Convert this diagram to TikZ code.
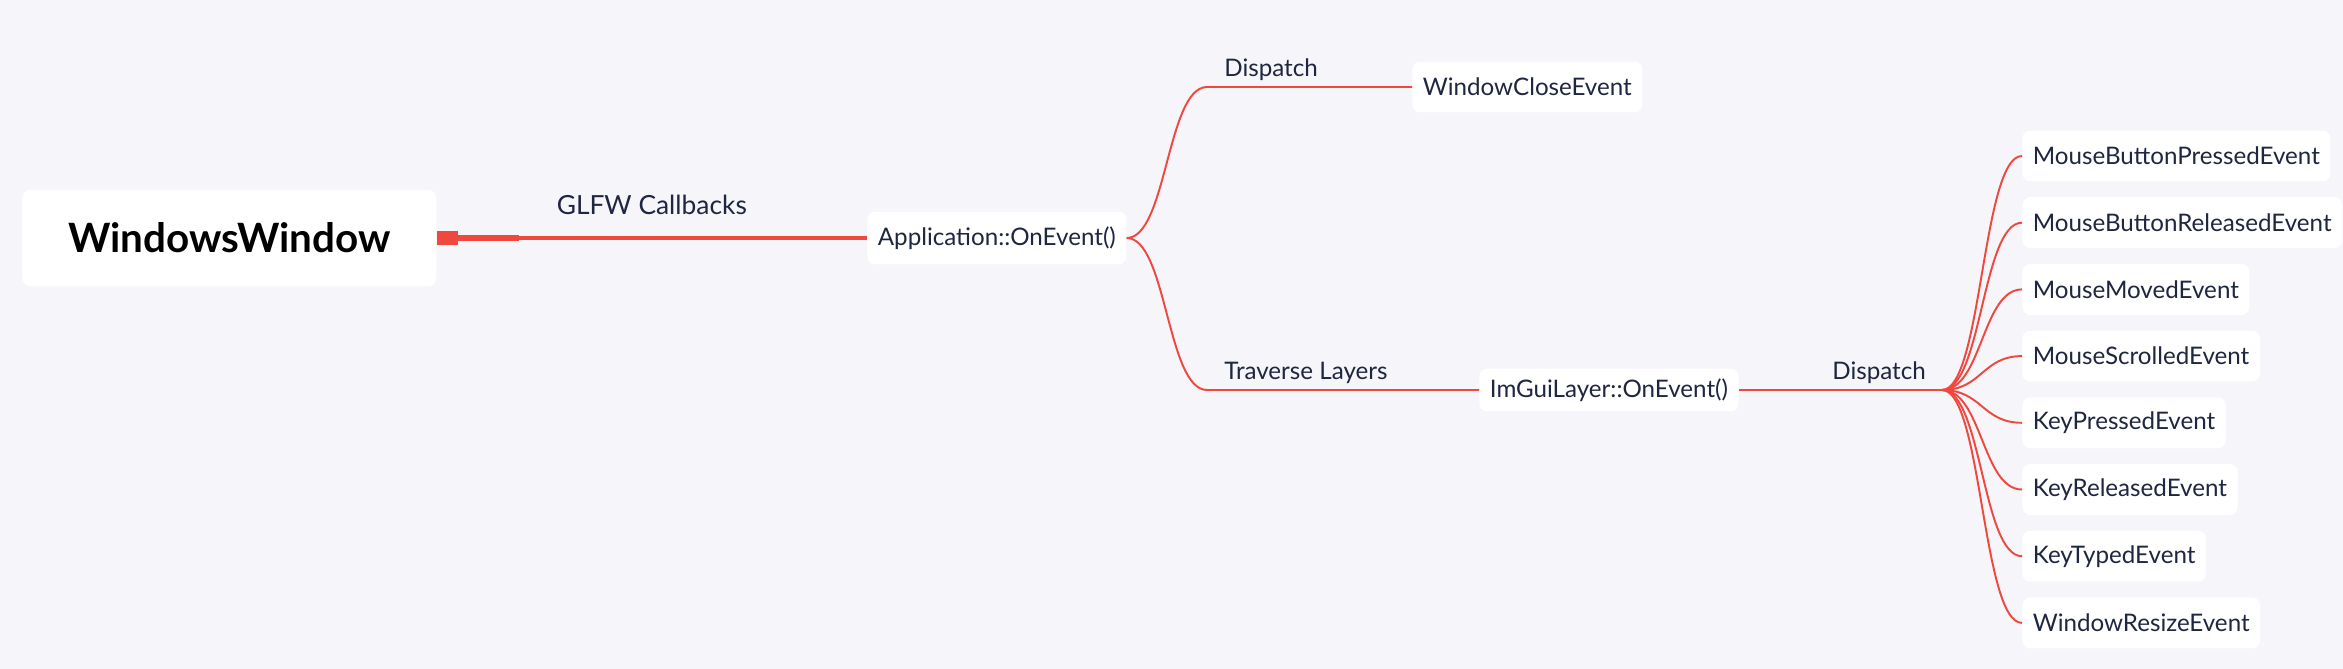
\documentclass[tikz,border=0pt]{standalone}
\usepackage{fontspec}
\setmainfont{Lato}
\usetikzlibrary{arrows.meta}

\definecolor{bgcol}{HTML}{F5F5FA}
\definecolor{linecol}{HTML}{F0483E}
\definecolor{txtcol}{HTML}{1E2640}

\tikzset{
    box/.style={fill=white, rounded corners=4.5pt, inner xsep=6pt, minimum height=1.02cm,
        text=txtcol, font=\fontsize{13.75}{16}\selectfont, anchor=west},
    rootbox/.style={fill=white, rounded corners=5pt, minimum width=8.28cm, minimum height=1.94cm,
        font=\fontsize{23}{27}\selectfont\bfseries, anchor=west},
    conn/.style={draw=linecol, line width=1.1pt},
    lbl/.style={text=txtcol, font=\fontsize{13.75}{16}\selectfont}
}

\begin{document}
\begin{tikzpicture}[x=0.02cm,y=-0.02cm]

    % background
    \fill[bgcol] (0,0) rectangle (2343,669);
    \useasboundingbox (0,0) rectangle (2343,669);

    % nodes
    \node[rootbox] (ww) at (22,238) {WindowsWindow};
    \node[box, minimum height=1.06cm] (app) at (867,238) {Application::OnEvent()};
    \node[box] (close) at (1412,87) {WindowCloseEvent};
    \node[box, minimum height=0.86cm] (imgui) at (1479,390) {ImGuiLayer::OnEvent()};

    % leaves
    \foreach \name/\txt [count=\i] in {mbp/MouseButtonPressedEvent, mbr/MouseButtonReleasedEvent,
            mm/MouseMovedEvent, ms/MouseScrolledEvent, kp/KeyPressedEvent,
            kr/KeyReleasedEvent, kt/KeyTypedEvent, wr/WindowResizeEvent}
        \node[box] (\name) at (2022,{156+(\i-1)*66.7}) {\txt};

    % junctions
    \coordinate (jd) at (1207,87);
    \coordinate (jt) at (1207,390);
    \coordinate (fan) at (1942,390);
    \coordinate (thk) at (519,238);

    % root connector
    \draw[conn, line width=2pt] (ww.east) -- (app.west)
        node[lbl, midway, above=9pt, font=\fontsize{15}{18}\selectfont] {GLFW Callbacks};
    \draw[conn, line width=3.2pt, {Square[length=0.42cm,width=0.28cm]}-] (ww.east) -- (thk);

    % branches of Application::OnEvent()
    \draw[conn] (app.east) .. controls +(40,0) and +(-40,0) .. (jd) -- (close.west)
        node[lbl, pos=0, above right, xshift=6pt] {Dispatch};
    \draw[conn] (app.east) .. controls +(40,0) and +(-40,0) .. (jt) -- (imgui.west)
        node[lbl, pos=0, above right, xshift=6pt] {Traverse Layers};

    % dispatch to the events
    \draw[conn] (imgui.east) -- (fan) node[lbl, midway, above, xshift=22pt] {Dispatch};
    \foreach \name in {mbp,mbr,mm,ms,kp,kr,kt,wr}
        \draw[conn] (fan) .. controls +(40,0) and +(-40,0) .. (\name.west);

\end{tikzpicture}
\end{document}
